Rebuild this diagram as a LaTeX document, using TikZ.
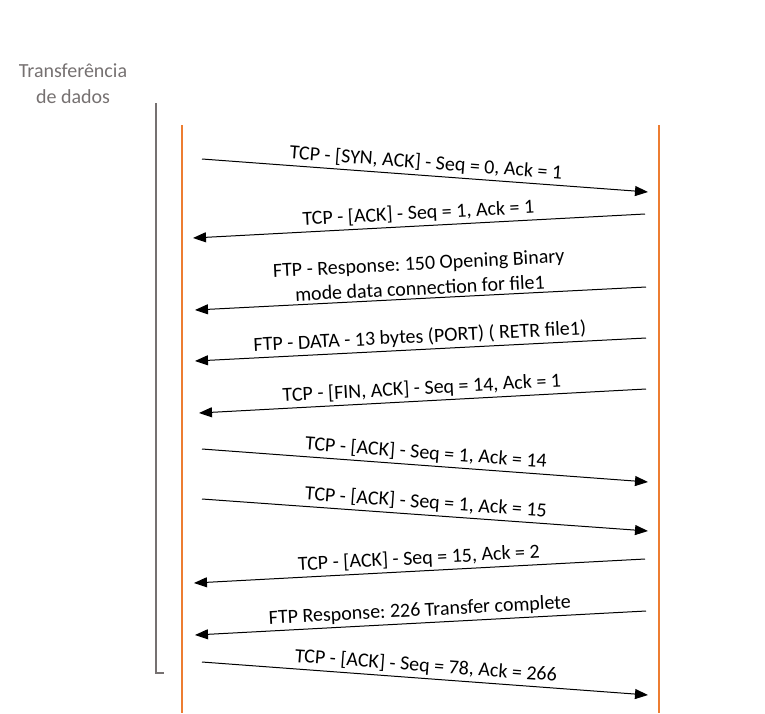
\documentclass[tikz,border=0pt]{standalone}
\usepackage{fontspec}
\setmainfont{Carlito}
\usetikzlibrary{arrows.meta}
\definecolor{lifeorange}{HTML}{ED7D31}
\definecolor{brgray}{HTML}{767171}
\frenchspacing
\begin{document}
\begin{tikzpicture}[x=1pt,y=-1pt,
  msgr/.style={-{Triangle[length=13pt,width=10pt]}, line width=1pt, black},
  msgl/.style={{Triangle[length=13pt,width=10pt]}-, line width=1pt, black},
  lbl/.style={midway, above, sloped, inner sep=3pt, font=\fontsize{20}{24}\selectfont, align=center},
  life/.style={lifeorange, line width=2.5pt},
  bracket/.style={brgray, line width=2pt},
  title/.style={brgray, align=center, font=\fontsize{20}{26}\selectfont}]
\useasboundingbox (0,0) rectangle (765,713);
% title
\node[title] (ttl) at (73,84) {Transferência\\de dados};
% bracket
\coordinate (bt) at (156,103);
\coordinate (bb) at (156,673);
\coordinate (bh) at (164,673);
\draw[bracket] (bt) -- (bb) -- (bh);
% lifelines
\coordinate (lt) at (182,125);
\coordinate (lb) at (182,713);
\coordinate (rt) at (659,125);
\coordinate (rb) at (659,713);
\draw[life] (lt) -- (lb);
\draw[life] (rt) -- (rb);
% messages
\coordinate (a1s) at (202,159); \coordinate (a1e) at (648,192);
\draw[msgr] (a1s) -- (a1e) node[lbl] {TCP - [SYN, ACK] - Seq = 0, Ack = 1};
\coordinate (a2e) at (193,238); \coordinate (a2s) at (645,214);
\draw[msgl] (a2e) -- (a2s) node[lbl] {TCP - [ACK] - Seq = 1, Ack = 1};
\coordinate (a3e) at (195,310); \coordinate (a3s) at (646,287);
\draw[msgl] (a3e) -- (a3s) node[lbl] {FTP - Response: 150 Opening Binary\\[1pt]mode data connection for file1};
\coordinate (a4e) at (195,361); \coordinate (a4s) at (646,338);
\draw[msgl] (a4e) -- (a4s) node[lbl] {FTP - DATA - 13 bytes (PORT) ( RETR file1)};
\coordinate (a5e) at (199,413); \coordinate (a5s) at (646,389);
\draw[msgl] (a5e) -- (a5s) node[lbl] {TCP - [FIN, ACK] - Seq = 14, Ack = 1};
\coordinate (a6s) at (202,449); \coordinate (a6e) at (648,482);
\draw[msgr] (a6s) -- (a6e) node[lbl] {TCP - [ACK] - Seq = 1, Ack = 14};
\coordinate (a7s) at (202,499); \coordinate (a7e) at (648,531);
\draw[msgr] (a7s) -- (a7e) node[lbl] {TCP - [ACK] - Seq = 1, Ack = 15};
\coordinate (a8e) at (194,583); \coordinate (a8s) at (645,559);
\draw[msgl] (a8e) -- (a8s) node[lbl] {TCP - [ACK] - Seq = 15, Ack = 2};
\coordinate (a9e) at (195,635); \coordinate (a9s) at (646,611);
\draw[msgl] (a9e) -- (a9s) node[lbl] {FTP Response: 226 Transfer complete};
\coordinate (a10s) at (202,662); \coordinate (a10e) at (648,695);
\draw[msgr] (a10s) -- (a10e) node[lbl] {TCP - [ACK] - Seq = 78, Ack = 266};
\end{tikzpicture}
\end{document}
